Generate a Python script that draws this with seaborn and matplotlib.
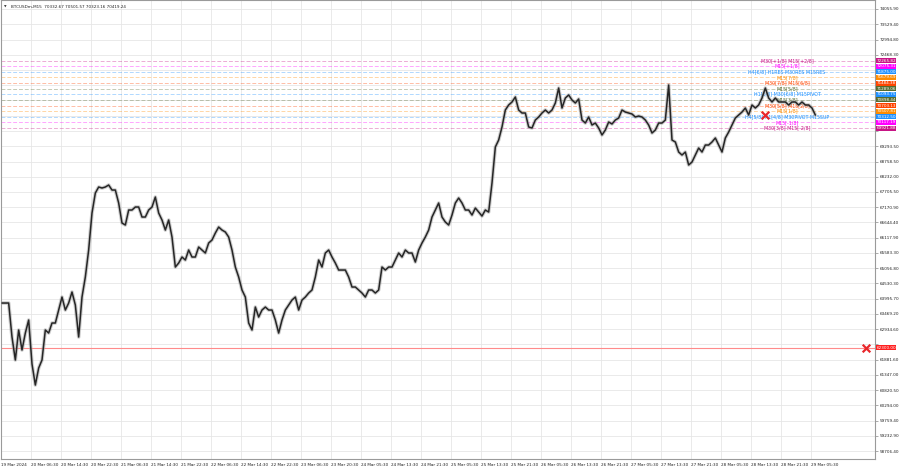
import numpy as np
import pandas as pd
import matplotlib
matplotlib.use("Agg")
import matplotlib.pyplot as plt
import matplotlib.transforms as mtransforms
import seaborn as sns

sns.set_theme(style="white")
plt.rcParams["font.family"] = ["DejaVu Sans"]

# ---------------- data ----------------
close = [
    63845, 63845, 63845, 62665, 61866, 62908, 62213, 62803, 63255, 61727,
    60997, 61588, 61866, 62908, 62803, 63151, 63151, 63602, 64053, 63602,
    63845, 64227, 63776, 62665, 64053, 64748, 65686, 66971, 67665, 67874,
    67839, 67874, 67943, 67769, 67769, 67318, 66623, 66554, 67075, 67075,
    67179, 67179, 66832, 66832, 67075, 67179, 67526, 66971, 66728, 66380,
    66728, 66137, 65095, 65234, 65443, 65338, 65686, 65443, 65443, 65790,
    65686, 65582, 65929, 66033, 66276, 66484, 66380, 66311, 66137, 65686,
    65095, 64748, 64297, 64053, 63151, 62908, 63706, 63359, 63602, 63706,
    63602, 63602, 63255, 62803, 63255, 63602, 63776, 63949, 64053, 63602,
    # 25 Mar region
    63949, 64053, 64192, 64297, 64748, 65338, 65095, 65582, 65686, 65443,
    65234, 64991, 64991, 64991, 64748, 64401, 64401, 64297, 64192, 64053,
    64297, 64297, 64192, 64297, 65095, 64991, 65095, 65095, 65338, 65582,
    65443, 65686, 65582, 65582, 65269, 65686, 65929, 66137, 66380, 66832,
    67075, 67318, 66832, 66658, 66554, 66901, 67318, 67492, 67318, 67075,
    67075, 66901, 67144, 67005, 66866, 67075, 67005, 68013, 69263, 69506,
    69958, 70548, 70722, 70826, 71000, 70548, 70444, 70444, 69958, 69923,
    70200, 70305, 70444, 70548, 70444, 70548, 70791, 71312, 70617, 70965,
    71069, 70895, 70791, 70930, 70200, 70096, 70305,
    # 27 Mar onward
    70027, 70096, 69923, 69680, 69853, 70131, 70062, 70200, 70270, 70548,
    70478, 70444, 70409, 70305, 70339, 70305, 70200, 70027, 69749, 69853,
    70096, 70096, 70200, 71416, 69506, 69437, 69089, 68985, 69089, 68638,
    68742, 68985, 69228, 69089, 69332, 69332, 69437, 69576, 69332, 69089,
    69576, 69784, 70027, 70270, 70374, 70478, 70617, 70374, 70722, 70617,
    70722, 70965, 71312, 70965, 70826, 70965, 70826, 70826, 70826, 70722,
    70826, 70826, 70722, 70826, 70722, 70722, 70617, 70374,
]

x_labels = ["19 Mar 2024", "20 Mar 06:30", "20 Mar 14:30", "20 Mar 22:30",
            "21 Mar 06:30", "21 Mar 14:30", "21 Mar 22:30", "22 Mar 06:30",
            "22 Mar 14:30", "22 Mar 22:30", "23 Mar 06:30", "23 Mar 20:30",
            "24 Mar 05:30", "24 Mar 13:30", "24 Mar 21:30", "25 Mar 05:30",
            "25 Mar 13:30", "25 Mar 21:30", "26 Mar 05:30", "26 Mar 13:30",
            "26 Mar 21:30", "27 Mar 05:30", "27 Mar 13:30", "27 Mar 21:30",
            "28 Mar 05:30", "28 Mar 13:30", "28 Mar 21:30", "29 Mar 05:30"]

y_ticks = [74055.90, 73529.40, 72994.80, 72468.30, 71941.80, 71407.20,
           70880.70, 70354.20, 69819.60, 69293.50, 68758.50, 68232.00,
           67705.50, 67170.90, 66644.40, 66117.90, 65583.30, 65056.80,
           64530.30, 63995.70, 63469.20, 62934.60, 62408.10, 61881.60,
           61347.00, 60820.50, 60294.00, 59759.40, 59232.90, 58706.40]
# tick labels hidden under the price boxes in the reference
hidden_ticks = [71941.80, 71407.20, 70880.70, 70354.20, 69819.60, 62408.10]

levels = [72265.82, 72075.31, 71875.00, 71679.69, 71484.38, 71289.06,
          71093.75, 70898.44, 70703.13, 70507.81, 70312.50, 70117.19, 69921.88]
level_colors = ["#C71585", "#FF00FF", "#1E90FF", "#FF8C00", "#FF4500", "#556B2F",
                "#1E90FF", "#556B2F", "#FF4500", "#FF8C00", "#1E90FF", "#FF00FF", "#C71585"]
level_texts = ["M30[+1/8] M15[+2/8]", "M15[+1/8]", "H4[6/8] H1RES M30RES M15RES",
               "M15[7/8]", "M30[7/8] M15[6/8]", "M15[5/8]",
               "H1[6/8] M30[6/8] M15PIVOT", "M15[3/8]", "M30[5/8] M15[2/8]",
               "M15[1/8]", "H4[5/8] H1[4/8] M30PIVOT M15SUP", "M15[-1/8]",
               "M30[3/8] M15[-2/8]"]

order_price = 62300.00
cross_idx = [228.9, 259.2]
cross_price = [70374, 62300]

title = "BTCUSDm,M15  70332.67 70501.57 70323.16 70419.24"

# ---------------- figure ----------------
df = pd.DataFrame({"idx": np.arange(len(close)), "close": close})

fig = plt.figure(figsize=(9, 4.68), dpi=100)
ax = fig.add_axes([1 / 900, 9 / 468, 874 / 900, 459 / 468])
ax.set_facecolor("white")

FS = 3.4
FS_TICK = 2.95
ax.set_xlim(-0.3, 261.9)
ax.set_ylim(58428.7, 74368.4)

# grid
tick_pos = [-0.3 + 9 * k for k in range(len(x_labels))]
for t in tick_pos[1:]:
    ax.axvline(t, color="#e6e6e6", lw=0.6, zorder=0)
for v in y_ticks:
    ax.axhline(v, color="#e6e6e6", lw=0.6, zorder=0)

# level lines
for lv, c in zip(levels, level_colors):
    ax.axhline(lv, color=c, lw=0.7, alpha=0.35, dashes=(4, 2), zorder=1)
ax.axhline(order_price, color="#ff8a8a", lw=0.8, zorder=1)

# level texts (behind price)
for lv, c, t in zip(levels, level_colors, level_texts):
    ax.text(235.5, lv, t, color=c, fontsize=FS, ha="center", va="center", zorder=2)

# price
sns.lineplot(data=df, x="idx", y="close", ax=ax, color="#9c9c9c", lw=2.6,
             alpha=0.5, zorder=3)
sns.lineplot(data=df, x="idx", y="close", ax=ax, color="#262626", lw=1.1, zorder=4)

# red crosses
ax.scatter(cross_idx, cross_price, marker="x", s=30, color="#e8262a",
           linewidths=1.6, zorder=6)

# axes styling
ax.yaxis.tick_right()
ax.set_yticks(y_ticks)
ax.set_yticklabels(["" if v in hidden_ticks else f"{v:.2f}" for v in y_ticks])
ax.set_xticks(tick_pos)
ax.set_xticklabels(x_labels, ha="left")
ax.tick_params(axis="both", labelsize=FS_TICK, colors="#222222", length=2, width=0.5,
               pad=1.2, color="#888888")
ax.set_xlabel("")
ax.set_ylabel("")
for s in ax.spines.values():
    s.set_color("#9a9a9a")
    s.set_linewidth(0.8)

# right-side price boxes
trans = mtransforms.blended_transform_factory(ax.transAxes, ax.transData)
for lv, c in zip(levels, level_colors):
    ax.text(1.0015, lv, f"{lv:.2f}", transform=trans, color="white", fontsize=FS_TICK,
            ha="left", va="center", clip_on=False, zorder=20,
            bbox=dict(boxstyle="square,pad=0.12", fc=c, ec="none"))
ax.text(1.0015, order_price, f"{order_price:.2f}", transform=trans, color="white",
        fontsize=FS_TICK, ha="left", va="center", clip_on=False, zorder=20,
        bbox=dict(boxstyle="square,pad=0.12", fc="#ff2020", ec="none"))

# title
ax.text(0.003, 0.99, "\u25BC", transform=ax.transAxes, fontsize=2.4, color="#333333",
        ha="left", va="top")
ax.text(0.011, 0.99, title, transform=ax.transAxes, fontsize=FS_TICK, color="#222222",
        ha="left", va="top")

fig.savefig("out.png", dpi=100, facecolor="white")
